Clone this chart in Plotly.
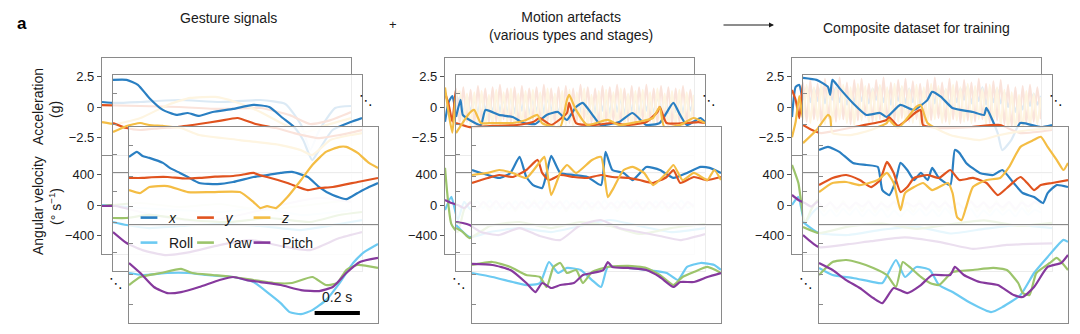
import numpy as np
import plotly.graph_objects as go

W, H = 1080, 334

# ---------------------------------------------------------------- data ----
# Each series is a list of (time [s], value) pairs.  Accelerations in g,
# angular velocities in deg/s.  Three stacked sample windows per column:
# back (B), middle (M) and front (F).

# Gesture signals
GF_X = [(0.00, 1.56), (0.035, 1.97), (0.06, 1.64), (0.09, 1.48), (0.15, 1.07), (0.18, 0.66), (0.225, 0.25),
        (0.26, -0.08), (0.31, -0.57), (0.39, -0.66), (0.46, -0.49), (0.55, -0.08), (0.61, 0.08), (0.67, 0.25),
        (0.72, 0.33), (0.79, -0.08), (0.84, -0.90), (0.90, -1.56), (0.96, -1.89), (1.01, -1.39), (1.06, -0.90),
        (1.10, -0.57)]
GF_Y = [(0.00, -0.16), (0.06, -0.16), (0.10, -0.10), (0.17, -0.08), (0.24, -0.20), (0.31, -0.16), (0.38, -0.05),
        (0.46, 0.00), (0.50, 0.10), (0.55, 0.25), (0.58, 0.05), (0.61, -0.08), (0.70, -0.57), (0.79, -1.15),
        (0.84, -0.98), (0.90, -0.90), (1.01, -0.49), (1.10, -0.16)]
GF_Z = [(0.00, -1.15), (0.05, -1.39), (0.09, -0.90), (0.17, -0.82), (0.26, -1.31), (0.37, -1.31), (0.49, -1.31),
        (0.55, -2.13), (0.58, -2.62), (0.61, -2.46), (0.65, -2.62), (0.70, -1.72), (0.76, -0.33), (0.81, 0.90),
        (0.87, 1.97), (0.93, 2.38), (0.96, 2.38), (1.01, 1.89), (1.06, 1.07), (1.10, 0.66)]
GF_ROLL = [(0.00, 13), (0.06, -13), (0.17, 13), (0.26, 13), (0.34, -13), (0.46, -39), (0.55, -105), (0.61, -236),
           (0.67, -380), (0.71, -498), (0.76, -524), (0.81, -472), (0.87, -341), (0.93, -118), (0.99, 144),
           (1.04, 288), (1.10, 393)]
GF_YAW = [(0.00, -144), (0.05, -39), (0.14, 13), (0.23, 66), (0.28, 13), (0.37, -13), (0.46, -39), (0.55, -79),
          (0.64, -118), (0.72, -118), (0.81, -39), (0.87, -144), (0.92, -118), (0.96, 52), (1.01, 118), (1.10, 79)]
GF_PITCH = [(0.00, 144), (0.05, 13), (0.11, -170), (0.17, -249), (0.23, -236), (0.31, -170), (0.40, -79),
            (0.46, -39), (0.52, -79), (0.58, -105), (0.67, -144), (0.76, -210), (0.84, -223), (0.90, -170),
            (0.96, 13), (1.02, 157), (1.10, 210)]

GM_X = [(0.00, 3.6), (0.06, 3.6), (0.11, 3.2), (0.16, 2.13), (0.22, 1.15), (0.28, 0.74), (0.33, 0.90), (0.38, 0.66),
        (0.44, 0.98), (0.53, 1.23), (0.62, 1.56), (0.69, 1.39), (0.75, 0.49), (0.80, -0.25), (0.84, -1.31),
        (0.88, -2.95), (0.91, -2.13), (0.97, -0.49), (1.05, 0.16), (1.10, 0.49)]
GM_Y = [(0.00, 0.08), (0.06, -0.33), (0.12, -0.49), (0.21, -0.33), (0.28, -0.25), (0.38, 0.00), (0.47, 0.25),
        (0.55, 0.49), (0.63, 0.00), (0.72, -0.33), (0.80, -0.74), (0.91, -1.15), (1.00, -0.90), (1.10, -0.49)]
GM_Z = [(0.00, -0.66), (0.06, -0.16), (0.12, 0.08), (0.16, -0.08), (0.22, -0.16), (0.30, -0.33), (0.38, -0.90),
        (0.56, -1.31), (0.74, -1.72), (0.83, -2.13), (0.88, -2.54), (0.96, -1.31), (1.05, -0.90), (1.10, -0.74)]
GM_ROLL = [(0.00, 0), (0.06, -39), (0.16, -79), (0.30, -52), (0.47, -26), (0.65, -52), (0.83, -105), (1.00, -26),
           (1.10, 26)]
GM_YAW = [(0.00, 52), (0.06, 52), (0.16, 92), (0.34, 26), (0.52, 0), (0.69, 52), (0.87, 0), (1.00, 92), (1.10, 131)]
GM_PITCH = [(0.00, -131), (0.06, -275), (0.13, -367), (0.23, -432), (0.34, -393), (0.47, -301), (0.61, -236),
            (0.74, -314), (0.87, -367), (1.00, -210), (1.10, -131)]

GB_X = [(0.00, 0.41), (0.06, 0.33), (0.17, 0.41), (0.34, 0.57), (0.52, 0.41), (0.70, 0.57), (0.81, 0.25),
        (0.88, -1.48), (0.92, -3.5), (0.96, -1.89), (1.03, -0.08), (1.10, 0.08)]
GB_Y = [(0.00, 0.16), (0.17, 0.08), (0.34, 0.00), (0.52, -0.16), (0.70, -0.08), (0.83, -0.66), (0.92, -1.39),
        (1.01, -1.07), (1.10, -0.41)]
GB_Z = [(0.00, -1.23), (0.06, -1.39), (0.17, -0.90), (0.30, 0.25), (0.39, 0.74), (0.50, 0.82), (0.59, 0.41),
        (0.70, -0.41), (0.81, -1.48), (0.90, -2.05), (0.99, -1.48), (1.10, -0.90)]
GB_ROLL = [(0.00, 0), (0.17, -39), (0.34, -66), (0.52, -92), (0.70, -39), (0.88, -131), (1.10, -66)]
GB_YAW = [(0.00, -13), (0.17, 26), (0.34, -26), (0.52, 13), (0.70, -66), (0.88, -13), (1.10, 66)]
GB_PITCH = [(0.00, -13), (0.06, -13), (0.17, -92), (0.30, -170), (0.43, -223), (0.61, -131), (0.79, 0),
            (0.96, 92), (1.10, 39)]

# Motion artefacts
AF_X = [(0.00, 0.49), (0.07, 0.08), (0.12, -0.16), (0.17, 0.25), (0.21, 1.56), (0.24, -0.08), (0.27, -0.74),
        (0.31, -0.98), (0.33, 0.25), (0.35, 1.64), (0.39, 0.25), (0.45, 0.08), (0.51, -0.08), (0.57, -0.74),
        (0.59, 1.97), (0.62, 0.49), (0.67, 0.25), (0.71, -0.33), (0.77, 0.74), (0.83, 0.49), (0.89, -0.16),
        (0.95, 0.25), (1.01, 0.74), (1.05, 0.66), (1.10, 0.25)]
AF_Y = [(0.00, -0.57), (0.07, -0.16), (0.12, 0.08), (0.18, -0.08), (0.24, 0.49), (0.29, 1.31), (0.31, 0.25),
        (0.34, -0.33), (0.39, 0.08), (0.45, -0.08), (0.51, -0.16), (0.57, 0.08), (0.62, -0.08), (0.69, -0.16),
        (0.74, -0.33), (0.80, -0.57), (0.86, -0.08), (0.89, 0.49), (0.92, -0.57), (0.98, -0.08), (1.04, -0.33),
        (1.10, -0.08)]
AF_Z = [(0.00, 0.08), (0.07, 0.25), (0.12, 0.49), (0.18, 0.25), (0.24, -0.16), (0.30, 1.15), (0.32, 1.56),
        (0.35, -1.56), (0.39, 0.25), (0.42, 0.90), (0.46, 0.25), (0.53, 1.31), (0.57, 1.56), (0.60, -1.72),
        (0.62, -1.15), (0.67, 0.49), (0.71, 0.74), (0.76, 0.25), (0.80, -0.74), (0.86, 0.25), (0.89, 0.90),
        (0.93, -0.33), (0.98, 0.25), (1.04, -0.33), (1.07, 0.49), (1.10, -0.33)]
AF_ROLL = [(0.00, 13), (0.09, -39), (0.18, -105), (0.24, -144), (0.30, -118), (0.34, 157), (0.38, 13), (0.42, 79),
           (0.48, 52), (0.53, -79), (0.57, -170), (0.60, 92), (0.69, 79), (0.77, 52), (0.86, 13), (0.91, -79),
           (0.95, 92), (1.01, 144), (1.07, 118), (1.10, 52)]
AF_YAW = [(0.00, 118), (0.09, 157), (0.17, 92), (0.24, -13), (0.30, -39), (0.33, -170), (0.36, 92), (0.39, 144),
          (0.42, 13), (0.46, 52), (0.49, -118), (0.53, 26), (0.60, 92), (0.69, 105), (0.77, 79), (0.83, -13),
          (0.89, -144), (0.93, -39), (0.98, 26), (1.04, 92), (1.10, 13)]
AF_PITCH = [(0.00, 131), (0.09, 118), (0.17, 52), (0.24, -118), (0.28, -236), (0.31, -118), (0.35, -183),
            (0.39, -144), (0.45, -118), (0.49, -13), (0.53, 13), (0.58, 52), (0.60, 157), (0.62, 92), (0.69, 79),
            (0.77, 52), (0.83, -39), (0.89, -170), (0.92, -105), (0.98, -105), (1.04, -39), (1.10, 13)]

AM_X = [(0.00, 0.57), (0.02, 1.97), (0.03, 0.74), (0.06, 0.33), (0.11, -0.08), (0.13, 1.15), (0.19, 0.74),
        (0.25, 0.57), (0.30, 0.08), (0.35, 0.00), (0.40, 0.74), (0.45, 0.98), (0.49, 0.33), (0.53, 1.39),
        (0.56, 1.72), (0.61, 0.57), (0.64, -0.08), (0.72, 0.16), (0.78, 0.90), (0.84, -0.08), (0.90, 0.08),
        (0.96, 1.72), (0.99, 0.74), (1.02, -0.08), (1.08, 0.49), (1.10, 0.16)]
AM_Y = [(0.00, 0.08), (0.06, -0.25), (0.16, -0.16), (0.27, -0.08), (0.34, 0.16), (0.37, 0.49), (0.42, -0.08),
        (0.49, 0.90), (0.50, 1.72), (0.53, 0.08), (0.61, -0.08), (0.69, 0.08), (0.76, -0.08), (0.84, 0.16),
        (0.89, 0.98), (0.90, 1.39), (0.93, 0.08), (1.02, 0.08), (1.07, 0.16), (1.10, 0.08)]
AM_Z = [(0.00, -0.74), (0.06, 0.90), (0.08, 1.15), (0.11, 0.08), (0.16, 0.08), (0.25, 0.08), (0.31, 0.33),
        (0.36, 0.74), (0.38, 0.08), (0.46, -0.25), (0.49, 1.97), (0.50, 2.38), (0.53, 1.15), (0.58, -0.08),
        (0.67, 0.33), (0.72, -0.08), (0.80, 0.16), (0.87, 0.49), (0.90, 1.39), (0.92, -0.25), (0.99, -0.08),
        (1.05, 0.49), (1.10, 0.08)]
AM_ROLL = [(0.00, -39), (0.06, -197), (0.15, -131), (0.28, -79), (0.42, -131), (0.55, -52), (0.68, 26),
           (0.81, -52), (0.95, -131), (1.10, -79)]
AM_YAW = [(0.00, -79), (0.03, -131), (0.06, -210), (0.15, -52), (0.28, 0), (0.42, -79), (0.55, 0), (0.68, -52),
          (0.81, -157), (0.95, -79), (1.10, -26)]
AM_PITCH = [(0.00, 0), (0.03, -13), (0.06, -39), (0.11, -131), (0.19, -170), (0.28, -79), (0.37, -183),
            (0.46, -236), (0.55, -39), (0.64, 26), (0.72, -79), (0.81, -131), (0.90, -183), (0.99, -236),
            (1.10, -157)]

# back artefact windows: evenly sampled fast oscillations over the 1.1 s window
AB_X = [-1.2, 0.4, 0.9, -0.3, 0.8, -0.5, 0.9, -0.4, 0.7, -0.6, 1.0, -0.3, 0.8, -0.5, 0.9, -0.4, 0.7, -0.6, 1.0,
        -0.5, 0.8, -0.3, 0.9, -0.6, 0.7, -0.4, 1.0, -0.5, 0.8, -0.4, 0.9, -0.6, 0.7, -0.3, 1.0, -0.5, 0.8, -0.4,
        0.9, -0.6, 0.7, -0.5, 1.0, -0.3, 0.8, -0.5, 0.9, -0.4, 0.7, -0.6, 1.0, -0.4, 0.8, -0.5, 0.9, -0.3, 0.7,
        -0.6, 1.0, -0.4, 0.8, -0.5, 0.9, -0.4, 0.7, -0.5, 0.8, -0.3, 0.6]
AB_Y = [1.15, 0.2, -1.2, 1.5, -1.3, 1.6, -1.2, 1.4, -1.4, 1.7, -1.1, 1.5, -1.3, 1.6, -1.2, 1.8, -1.0, 1.5, -1.3,
        1.6, -1.4, 1.7, -1.2, 1.5, -1.1, 1.6, -1.3, 1.8, -1.2, 1.5, -1.4, 1.6, -1.1, 1.7, -1.3, 1.5, -1.2, 1.8,
        -1.0, 1.6, -1.3, 1.5, -1.4, 1.7, -1.2, 1.6, -1.1, 1.8, -1.3, 1.5, -1.2, 1.7, -1.4, 1.6, -1.0, 1.8, -1.2,
        1.5, -1.3, 1.7, -1.1, 1.6, -1.4, 1.5, -1.2, 1.7, -1.3, 1.4, -0.9]
AB_Z = [1.6, -0.5, -2.1, 0.8, 1.3, -1.5, 1.1, -1.7, 1.2, -1.4, 1.3, -1.8, 1.0, -1.5, 1.4, -1.6, 1.2, -1.3, 1.5,
        -1.7, 1.1, -1.5, 1.3, -1.6, 1.4, -1.2, 1.2, -1.8, 1.5, -1.4, 1.1, -1.6, 1.3, -1.5, 1.4, -1.7, 1.2, -1.3,
        1.5, -1.6, 1.0, -1.5, 1.3, -1.8, 1.4, -1.4, 1.2, -1.6, 1.5, -1.5, 1.1, -1.7, 1.3, -1.4, 1.4, -1.6, 1.2,
        -1.5, 1.5, -1.3, 1.1, -1.7, 1.3, -1.5, 1.4, -1.6, 1.2, -1.4, 1.0]
AB_ROLL = [-66, 105, -197, 40, -60, 50, -40, 60, -50, 30, -60, 50, -40, 60, -30, 50, -60, 40, -50, 60, -40, 50,
           -60, 30, -50, 60, -40, 50, -30, 60, -50, 40, -60, 50, -40, 30, -50, 60, -40, 20]
AB_YAW = [485, -250, -354, -60, 40, -80, 30, -70, 50, -60, 40, -80, 30, -50, 60, -70, 40, -60, 50, -80, 30, -60,
          40, -70, 50, -60, 30, -80, 40, -50, 60, -70, 30, -60, 50, -80, 40, -60, 30, -40]
AB_PITCH = [66, 26, 0, -40, 30, -50, 40, -30, 50, -40, 30, -50, 40, -40, 30, -50, 50, -30, 40, -50, 30, -40, 50,
            -30, 40, -50, 30, -40, 50, -40, 30, -50, 40, -30, 50, -40, 30, -50, 40, -20]

# Composite dataset
CF_X = [(0.00, 2.13), (0.04, 2.38), (0.09, 1.97), (0.15, 1.07), (0.21, 0.90), (0.26, 0.74), (0.28, -1.15),
        (0.31, -1.56), (0.34, -0.33), (0.36, 1.07), (0.39, 0.49), (0.42, -0.33), (0.45, 0.25), (0.48, -0.33),
        (0.50, 0.66), (0.53, -0.16), (0.58, -0.74), (0.60, 2.13), (0.62, 1.89), (0.65, 1.07), (0.71, 0.25),
        (0.77, 0.08), (0.81, 0.49), (0.86, -0.57), (0.90, -1.39), (0.95, -1.72), (0.99, -2.21), (1.01, -1.39),
        (1.05, -0.74), (1.10, -0.90)]
CF_Y = [(0.00, -0.74), (0.06, -0.16), (0.12, 0.08), (0.18, -0.33), (0.23, -0.90), (0.27, -0.33), (0.30, 1.15),
        (0.33, 0.25), (0.36, -1.31), (0.39, -0.90), (0.42, -0.16), (0.48, 0.08), (0.53, -0.16), (0.58, 0.49),
        (0.62, -0.33), (0.68, -0.16), (0.74, -0.57), (0.79, -1.56), (0.83, -0.98), (0.89, -0.08), (0.92, -0.57),
        (0.95, -1.15), (0.98, -0.74), (1.03, -0.57), (1.10, -0.33)]
CF_Z = [(0.00, -1.31), (0.06, -0.57), (0.12, -0.49), (0.18, -0.74), (0.26, -0.33), (0.30, 0.25), (0.33, -0.57),
        (0.36, -2.79), (0.38, -1.39), (0.42, -0.90), (0.46, -0.57), (0.50, -1.15), (0.57, -0.57), (0.59, -1.39),
        (0.61, -3.36), (0.63, -3.60), (0.65, -2.54), (0.68, -0.90), (0.74, -0.33), (0.80, -0.16), (0.84, 0.74),
        (0.89, 2.38), (0.95, 2.95), (0.98, 3.20), (1.01, 2.38), (1.05, 1.31), (1.08, 0.49), (1.10, 1.07)]
CF_ROLL = [(0.00, 79), (0.06, -13), (0.15, -52), (0.24, -105), (0.28, -118), (0.34, 183), (0.38, -39), (0.43, 92),
           (0.49, 52), (0.53, -144), (0.59, -236), (0.67, -380), (0.76, -498), (0.81, -432), (0.89, -275),
           (0.95, 13), (1.01, 223), (1.08, 445), (1.10, 419)]
CF_YAW = [(0.00, -13), (0.06, 157), (0.12, 183), (0.18, 144), (0.24, 79), (0.30, -13), (0.34, -170), (0.37, 157),
          (0.40, 92), (0.45, -39), (0.49, -118), (0.53, -144), (0.59, 26), (0.68, 52), (0.77, 79), (0.83, 52),
          (0.88, -118), (0.90, -249), (0.93, -275), (0.96, 13), (1.02, 144), (1.05, 210), (1.10, 52)]
CF_PITCH = [(0.00, 144), (0.06, 52), (0.12, -79), (0.18, -183), (0.24, -314), (0.28, -380), (0.33, -183),
            (0.39, -249), (0.45, -144), (0.50, -13), (0.58, -13), (0.60, 92), (0.64, -13), (0.71, -105),
            (0.79, -144), (0.86, -275), (0.90, -301), (0.95, -170), (1.01, 92), (1.07, 144), (1.10, 249)]

CM_X = [(0.00, 3.77), (0.06, 3.6), (0.11, 3.03), (0.12, 2.38), (0.13, 3.6), (0.16, 2.95), (0.22, 1.72),
        (0.28, 0.74), (0.34, 0.90), (0.37, 0.57), (0.43, 1.56), (0.49, 1.15), (0.55, 1.97), (0.57, 2.62),
        (0.61, 2.21), (0.66, 1.31), (0.75, 0.98), (0.80, 0.74), (0.81, 1.31), (0.86, -0.74), (0.88, -2.13),
        (0.92, -1.31), (0.96, 0.08), (1.05, -0.25), (1.10, -0.08)]
CM_Y = [(0.00, -0.08), (0.04, -0.49), (0.08, -0.74), (0.16, -0.49), (0.25, -0.16), (0.34, 0.16), (0.37, 0.33),
        (0.38, 0.57), (0.42, -0.16), (0.50, 0.98), (0.52, 1.15), (0.53, -0.08), (0.61, -0.33), (0.74, -0.25),
        (0.87, -0.08), (0.96, -0.74), (1.10, -0.49)]
CM_Z = [(0.00, -1.56), (0.06, -0.49), (0.11, 0.74), (0.12, 0.57), (0.13, -0.74), (0.21, -0.90), (0.30, -0.49),
        (0.37, 0.08), (0.38, 0.33), (0.42, -0.33), (0.50, 1.39), (0.52, 1.56), (0.55, 0.08), (0.65, -0.90),
        (0.78, -1.31), (0.87, -0.90), (1.00, -0.49), (1.10, -0.33)]
CM_ROLL = [(0.00, 0), (0.07, -144), (0.20, -170), (0.35, -100), (0.50, -60), (0.65, -150), (0.80, -90),
           (0.95, -40), (1.10, -80)]
CM_YAW = [(0.00, -66), (0.07, -144), (0.20, -60), (0.35, -20), (0.50, -90), (0.65, -30), (0.80, 20), (0.95, -50),
          (1.10, -10)]
CM_PITCH = [(0.00, -170), (0.07, -328), (0.20, -290), (0.30, -250), (0.45, -200), (0.60, -260), (0.75, -350),
            (0.90, -300), (1.10, -280)]

CB_X = [-0.82, 1.64, 1.8, 0.6, 1.6, 0.4, 1.5, 0.5, 1.7, 0.3, 1.4, 0.6, 1.6, 0.4, 1.5, 0.2, 1.3, 0.4, 1.6, 0.5,
        1.4, 0.3, 1.5, 0.6, 1.7, 0.4, 1.4, 0.2, 1.3, 0.5, 1.6, 0.3, 1.5, 0.4, 1.2, 0.1, 1.4, 0.5, 1.6, 0.3, 1.5,
        0.6, 1.4, 0.2, 1.3, 0.4, 1.5, 0.6, 1.7, 0.3, 1.4, 0.5, 1.6, 0.2, 1.3, 0.4, 1.5, 0.3, 1.2, 0.0, 0.8, -0.4,
        0.6, -0.2, 0.9, 0.1, 1.1, 0.2, 0.9]
CB_Y = [1.39, 0.57, -0.9, 2.0, -1.2, 2.2, -1.0, 1.9, -1.3, 2.3, -0.9, 2.1, -1.2, 2.4, -1.0, 2.0, -1.4, 2.2, -1.1,
        2.3, -0.8, 1.9, -1.2, 2.2, -1.0, 2.4, -1.3, 2.0, -1.1, 2.2, -0.9, 2.3, -1.2, 2.1, -1.0, 1.9, -1.4, 2.2,
        -1.1, 2.4, -0.9, 2.0, -1.2, 2.3, -1.0, 2.1, -1.3, 2.2, -1.1, 2.0, -1.2, 2.3, -1.0, 1.9, -1.3, 2.1, -1.1,
        2.2, -1.4, 1.8, -1.6, 1.6, -1.5, 1.7, -1.3, 1.8, -1.2, 1.6, -1.0]
CB_Z = [-2.46, -1.2, 0.9, -1.0, 1.8, -1.3, 1.6, -1.1, 1.9, -1.4, 1.7, -1.2, 1.5, -1.0, 1.8, -1.3, 1.6, -1.5, 1.9,
        -1.1, 1.7, -1.3, 1.5, -1.2, 1.8, -1.0, 1.6, -1.4, 1.9, -1.2, 1.7, -1.1, 1.5, -1.3, 1.8, -1.5, 1.6, -1.2,
        1.9, -1.0, 1.7, -1.3, 1.5, -1.4, 1.8, -1.1, 1.6, -1.2, 1.9, -1.3, 1.7, -1.0, 1.5, -1.4, 1.8, -1.2, 1.6,
        -1.5, 1.4, -1.8, 1.2, -2.0, 1.0, -1.8, 1.3, -1.6, 1.1, -1.4, 0.8]
CB_ROLL = [0, 105, -236, -120, -40, -140, -60, -150, -50, -130, -40, -150, -60, -140, -50, -160, -70, -150, -60,
           -130, -50, -140, -60, -150, -40, -130, -60, -140, -50, -160, -70, -140, -50, -130, -60, -150, -40, -130,
           -60, -100]
CB_YAW = [524, 288, -236, -60, 60, -80, 40, -90, 50, -70, 30, -80, 60, -90, 40, -70, 50, -80, 30, -90, 60, -70,
          40, -80, 50, -90, 30, -70, 60, -80, 40, -90, 50, -70, 30, -80, 60, -90, 40, -60]
CB_PITCH = [131, 66, 26, -20, 40, -30, 30, -50, 20, -40, 30, -20, 40, -50, 20, -30, 40, -40, 30, -20, 20, -50,
            40, -30, 30, -40, 20, -50, 40, -30, 30, -40, 20, -30, 40, -50, 30, -20, 40, 10]

COLUMN_TITLES = ["Gesture signals", "Motion artefacts<br>(various types and stages)",
                 "Composite dataset for training"]
ACC_TICKS = [-2.5, 0, 2.5]
GYRO_TICKS = [-400, 0, 400]
ACC_NAMES = ["<i>x</i>", "<i>y</i>", "<i>z</i>"]
GYRO_NAMES = ["Roll", "Yaw", "Pitch"]
SCALE_BAR_S = 0.2

# --------------------------------------------------------------- style ----
C_X, C_Y, C_Z = "#2a7fc2", "#e0531f", "#f4bd44"
C_ROLL, C_YAW, C_PITCH = "#6ccaf2", "#9cc46b", "#86399d"
ACC_COLORS = [C_X, C_Y, C_Z]
GYRO_COLORS = [C_ROLL, C_YAW, C_PITCH]
FRAME = "#8a8a8a"
FONT = "Liberation Sans, Arial, sans-serif"
CARD_ALPHA = 0.84

COL_LEFT = [102, 445, 792]                 # px, left edge of the back window
CARD_OFFSET = [(0, 58), (11, 75), (27, 127)]  # px offsets (dx, top) back -> front
CARD_W, CARD_H = 249, 196
T_RANGE = [0, 1.1]
ACC_RANGE = [-4.0, 4.0]
GYRO_RANGE = [-640, 640]

columns = [
    [(GB_X, GB_Y, GB_Z, GB_ROLL, GB_YAW, GB_PITCH),
     (GM_X, GM_Y, GM_Z, GM_ROLL, GM_YAW, GM_PITCH),
     (GF_X, GF_Y, GF_Z, GF_ROLL, GF_YAW, GF_PITCH)],
    [(AB_X, AB_Y, AB_Z, AB_ROLL, AB_YAW, AB_PITCH),
     (AM_X, AM_Y, AM_Z, AM_ROLL, AM_YAW, AM_PITCH),
     (AF_X, AF_Y, AF_Z, AF_ROLL, AF_YAW, AF_PITCH)],
    [(CB_X, CB_Y, CB_Z, CB_ROLL, CB_YAW, CB_PITCH),
     (CM_X, CM_Y, CM_Z, CM_ROLL, CM_YAW, CM_PITCH),
     (CF_X, CF_Y, CF_Z, CF_ROLL, CF_YAW, CF_PITCH)],
]


def unpack(series):
    """(t, v) pairs, or plain values sampled evenly across the window."""
    if isinstance(series[0], tuple):
        return [p[0] for p in series], [p[1] for p in series]
    return list(np.linspace(T_RANGE[0], T_RANGE[1], len(series))), list(series)


def px_x(px):
    return px / W


def px_y(py):
    return 1 - py / H


fig = go.Figure()
layout = dict(width=W, height=H, margin=dict(l=0, r=0, t=0, b=0), autosize=False,
              paper_bgcolor="white", plot_bgcolor="rgba(0,0,0,0)", showlegend=True,
              font=dict(family=FONT, size=13, color="#1a1a1a"))
shapes, annotations = [], []

for p, col in enumerate(columns):
    for k, card in enumerate(col):
        n = p * 3 + k + 1
        ya, yg = 2 * n - 1, 2 * n
        dx, top = CARD_OFFSET[k]
        left = COL_LEFT[p] + dx
        half = CARD_H / 2
        is_back = k == 0

        layout[f"xaxis{n}"] = dict(
            domain=[px_x(left), px_x(left + CARD_W)], range=T_RANGE, anchor=f"y{yg}",
            showline=True, linecolor=FRAME, linewidth=1.2, mirror="all",
            showticklabels=False, ticks="", showgrid=False, zeroline=False, fixedrange=True)
        common_y = dict(anchor=f"x{n}", showline=True, linecolor=FRAME, linewidth=1.2, mirror=True,
                        ticks="outside" if is_back else "inside", ticklen=4, tickwidth=1.2,
                        tickcolor="#555" if is_back else FRAME, showticklabels=is_back,
                        tickfont=dict(size=13, color="#1a1a1a"), showgrid=False, zeroline=False,
                        fixedrange=True)
        layout[f"yaxis{ya}"] = dict(domain=[px_y(top + half), px_y(top)], range=ACC_RANGE,
                                    tickvals=ACC_TICKS, **common_y)
        layout[f"yaxis{yg}"] = dict(domain=[px_y(top + CARD_H), px_y(top + half)], range=GYRO_RANGE,
                                    tickvals=GYRO_TICKS, **common_y)

        # translucent white sheet so windows further back show through faintly
        alpha = 1.0 if is_back else CARD_ALPHA
        for yref, big in ((f"y{ya}", 50), (f"y{yg}", 5000)):
            shapes.append(dict(type="rect", xref=f"x{n}", yref=yref, x0=-1, x1=3, y0=-big, y1=big,
                               fillcolor="white", opacity=alpha, line=dict(width=0), layer="below"))

        for i in range(3):
            t, v = unpack(card[i])
            fig.add_trace(go.Scatter(x=t, y=v, mode="lines", xaxis=f"x{n}", yaxis=f"y{ya}",
                                     line=dict(color=ACC_COLORS[i], width=2.2, shape="spline", smoothing=0.5),
                                     showlegend=False, hoverinfo="skip"))
        for i in range(3):
            t, v = unpack(card[3 + i])
            fig.add_trace(go.Scatter(x=t, y=v, mode="lines", xaxis=f"x{n}", yaxis=f"y{yg}",
                                     line=dict(color=GYRO_COLORS[i], width=2.2, shape="spline", smoothing=0.5),
                                     showlegend=False, hoverinfo="skip"))

        # stacking dots at the corners of the back window
        if is_back:
            for (ddx, ddy) in ((CARD_W + 15, 42), (14, CARD_H + 29)):
                annotations.append(dict(text="⋱", x=px_x(left + ddx), y=px_y(top + ddy), xref="paper",
                                        yref="paper", showarrow=False, xanchor="center", yanchor="middle",
                                        font=dict(family="DejaVu Sans", size=14, color="#111")))

# legend keys (front gesture window)
for j, (name, c) in enumerate(zip(ACC_NAMES, ACC_COLORS)):
    fig.add_trace(go.Scatter(x=[None], y=[None], mode="markers", name=name, legend="legend",
                             xaxis="x3", yaxis="y5", legendwidth=40 if j == 2 else None,
                             marker=dict(symbol="line-ew", size=12, color=c, line=dict(color=c, width=2.6))))
for j, (name, c) in enumerate(zip(GYRO_NAMES, GYRO_COLORS)):
    fig.add_trace(go.Scatter(x=[None], y=[None], mode="markers", name=name, legend="legend2",
                             xaxis="x3", yaxis="y6", legendwidth=40 if j == 2 else None,
                             marker=dict(symbol="line-ew", size=12, color=c, line=dict(color=c, width=2.6))))
leg_common = dict(orientation="h", xanchor="left", yanchor="middle", bgcolor="rgba(0,0,0,0)",
                  font=dict(family=FONT, size=14, color="#1a1a1a"), entrywidth=11.5, entrywidthmode="pixels",
                  itemwidth=30, itemclick=False, itemdoubleclick=False)
layout["legend"] = dict(x=px_x(129), y=px_y(218), **leg_common)
layout["legend2"] = dict(x=px_x(129), y=px_y(243), **leg_common)

# 0.2 s scale bar in the front gesture window
bar_t0 = 0.82
shapes.append(dict(type="line", xref="x3", yref="y6", x0=bar_t0, x1=bar_t0 + SCALE_BAR_S, y0=-511, y1=-511,
                   line=dict(color="black", width=4), layer="above"))
annotations.append(dict(text=f"{SCALE_BAR_S} s", x=bar_t0 + SCALE_BAR_S / 2, y=-300, xref="x3", yref="y6",
                        showarrow=False, font=dict(size=14, color="#1a1a1a")))

# column titles, operators and panel letter
title_pos = [(228, 18), (571, 26), (916, 28)]
for txt, (x, y) in zip(COLUMN_TITLES, title_pos):
    annotations.append(dict(text=txt, x=px_x(x), y=px_y(y), xref="paper", yref="paper", showarrow=False,
                            xanchor="center", yanchor="middle", font=dict(size=14, color="#1a1a1a")))
annotations.append(dict(text="+", x=px_x(393), y=px_y(25), xref="paper", yref="paper", showarrow=False,
                        yanchor="middle", font=dict(size=13, color="#1a1a1a")))
annotations.append(dict(text=" ", x=px_x(774), y=px_y(25), ax=-54, ay=0, xref="paper",
                        yref="paper", axref="pixel", ayref="pixel", showarrow=True, arrowhead=2,
                        arrowsize=1, arrowwidth=1, arrowcolor="#1a1a1a"))
annotations.append(dict(text="<b>a</b>", x=px_x(15), y=px_y(12), xref="paper", yref="paper", showarrow=False,
                        font=dict(size=17, color="black")))

# y-axis titles
for txt, x, y in (("Acceleration", 38, 107), ("(g)", 55, 110),
                  ("Angular velocity", 38, 206), ("(° s<sup>−1</sup>)", 55, 207)):
    annotations.append(dict(text=txt, x=px_x(x), y=px_y(y), xref="paper", yref="paper", showarrow=False,
                            textangle=-90, xanchor="center", yanchor="middle",
                            font=dict(size=14, color="#1a1a1a")))

layout["shapes"] = shapes
layout["annotations"] = annotations
fig.update_layout(**layout)
fig.write_html("out.html")
